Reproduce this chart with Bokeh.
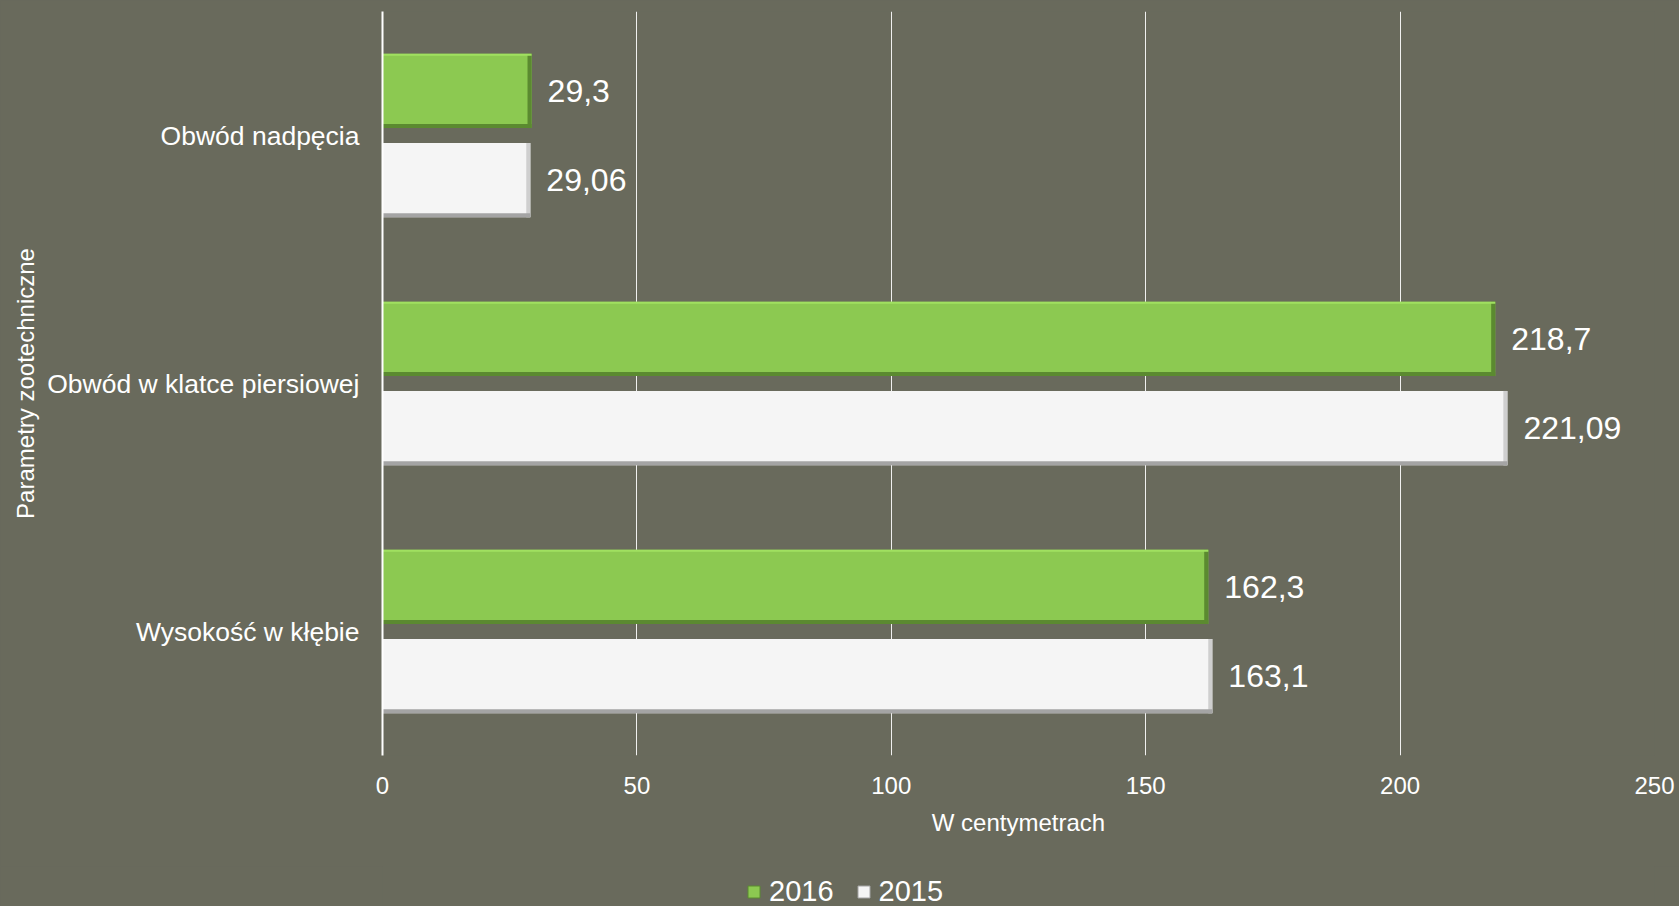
from bokeh.plotting import figure
from bokeh.layouts import column
from bokeh.models import (ColumnDataSource, FactorRange, Range1d, FixedTicker,
                          Legend, LegendItem)
from bokeh.transform import dodge
from bokeh.core.properties import value
from bokeh.embed import file_html
from bokeh.resources import INLINE

# ---- data ----
categories = ["Obwód nadpęcia", "Obwód w klatce piersiowej", "Wysokość w kłębie"]
values_2016 = [29.3, 218.7, 162.3]
values_2015 = [29.06, 221.09, 163.1]
series_names = ["2016", "2015"]
x_ticks = [0, 50, 100, 150, 200, 250]
x_title = "W centymetrach"
y_title = "Parametry zootechniczne"

BG = "#696a5c"
FONT = "Liberation Sans"
GREEN = "#8cc951"
GREEN_DARK = "#5b8a30"
GREEN_LIGHT = "#a0e060"
WHITE = "#f5f5f5"
WHITE_DARK = "#a4a4a4"
WHITE_SIDE = "#cfcfcf"

W = 1679
MAIN_H = 866
LEG_H = 40


def fmt(v):
    return str(v).replace(".", ",")


source = ColumnDataSource(dict(
    cat=categories,
    v16=values_2016,
    v15=values_2015,
    e16=[v - 0.8 for v in values_2016],
    e15=[v - 0.8 for v in values_2015],
    l16=[fmt(v) for v in values_2016],
    l15=[fmt(v) for v in values_2015],
))

p = figure(width=W, height=MAIN_H,
           y_range=FactorRange(factors=list(reversed(categories))),
           x_range=Range1d(0, 250),
           output_backend="svg", toolbar_location=None,
           min_border_left=382, min_border_right=25,
           min_border_top=11, min_border_bottom=MAIN_H - 755,
           background_fill_color=BG, border_fill_color=BG,
           outline_line_color=None)

OFF = 0.18
H = 0.30
yr = p.y_range

# 2016 (green) bars
g_main = p.hbar(y=dodge("cat", OFF, range=yr), right="v16", left=0, height=H,
                fill_color=GREEN, line_color=None, source=source)
p.hbar(y=dodge("cat", OFF, range=yr), right="v16", left="e16", height=H,
       fill_color=GREEN_DARK, line_color=None, source=source)
p.hbar(y=dodge("cat", OFF - H / 2 + 0.008, range=yr), right="v16", left=0, height=0.016,
       fill_color=GREEN_DARK, line_color=None, source=source)
p.hbar(y=dodge("cat", OFF + H / 2 - 0.004, range=yr), right="v16", left=0, height=0.008,
       fill_color=GREEN_LIGHT, line_color=None, source=source)

# 2015 (white) bars
w_main = p.hbar(y=dodge("cat", -OFF, range=yr), right="v15", left=0, height=H,
                fill_color=WHITE, line_color=None, source=source)
p.hbar(y=dodge("cat", -OFF, range=yr), right="v15", left="e15", height=H,
       fill_color=WHITE_SIDE, line_color=None, source=source)
p.hbar(y=dodge("cat", -OFF - H / 2 + 0.008, range=yr), right="v15", left=0, height=0.016,
       fill_color=WHITE_DARK, line_color=None, source=source)

# value labels
p.text(x="v16", y=dodge("cat", OFF, range=yr), text="l16", x_offset=16,
       text_baseline="middle", text_align="left", text_font=value(FONT),
       text_font_size="32px", text_color="white", source=source)
p.text(x="v15", y=dodge("cat", -OFF, range=yr), text="l15", x_offset=16,
       text_baseline="middle", text_align="left", text_font=value(FONT),
       text_font_size="32px", text_color="white", source=source)

# grid
p.ygrid.grid_line_color = None
p.xgrid.grid_line_color = "white"
p.xgrid.grid_line_width = 1
p.xgrid.grid_line_alpha = 0.9

# x axis
p.xaxis.ticker = FixedTicker(ticks=x_ticks)
p.xaxis.axis_line_color = None
p.xaxis.major_tick_line_color = None
p.xaxis.minor_tick_line_color = None
p.xaxis.major_label_text_font = FONT
p.xaxis.major_label_text_font_size = "24px"
p.xaxis.major_label_text_color = "white"
p.xaxis.major_label_standoff = 15
p.xaxis.axis_label = x_title
p.xaxis.axis_label_text_font = FONT
p.xaxis.axis_label_text_font_size = "24px"
p.xaxis.axis_label_text_font_style = "normal"
p.xaxis.axis_label_text_color = "white"
p.xaxis.axis_label_standoff = 12

# y axis
p.yaxis.axis_line_color = "white"
p.yaxis.axis_line_width = 2
p.yaxis.major_tick_line_color = None
p.yaxis.minor_tick_line_color = None
p.yaxis.major_label_text_font = FONT
p.yaxis.major_label_text_font_size = "26.5px"
p.yaxis.major_label_text_color = "white"
p.yaxis.major_label_standoff = 17
p.yaxis.axis_label = y_title
p.yaxis.axis_label_text_font = FONT
p.yaxis.axis_label_text_font_size = "24px"
p.yaxis.axis_label_text_font_style = "normal"
p.yaxis.axis_label_text_color = "white"
p.yaxis.axis_label_standoff = 5

# ---- legend strip below the chart ----
pl = figure(width=W, height=LEG_H, x_range=Range1d(0, 1), y_range=Range1d(0, 1),
            output_backend="svg", toolbar_location=None,
            x_axis_location=None, y_axis_location=None,
            min_border=0, min_border_left=0, min_border_right=0,
            min_border_top=0, min_border_bottom=0,
            background_fill_color=BG, border_fill_color=BG,
            outline_line_color=None)
pl.grid.visible = False
# legend-only renderers, placed outside the visible range of the strip
lg16 = pl.hbar(y=[-5], right=[1], left=[0], height=1, fill_color=GREEN,
               line_color=GREEN_DARK, line_width=1)
lg15 = pl.hbar(y=[-5], right=[1], left=[0], height=1, fill_color=WHITE,
               line_color=WHITE_DARK, line_width=1)

legend = Legend(items=[LegendItem(label=series_names[0], renderers=[lg16]),
                       LegendItem(label=series_names[1], renderers=[lg15])],
                orientation="horizontal", location=(364, -2),
                background_fill_alpha=0, border_line_color=None,
                label_text_font=FONT, label_text_font_size="29px",
                label_text_color="white", glyph_width=15, glyph_height=15,
                label_standoff=8, spacing=22, padding=0, margin=0)
pl.add_layout(legend, "center")

layout = column(p, pl, spacing=0)

html = file_html(layout, INLINE, title="chart")
html = html.replace("<head>", "<head><style>body{background-color:%s;}</style>" % BG, 1)
open("out.html", "w").write(html)
